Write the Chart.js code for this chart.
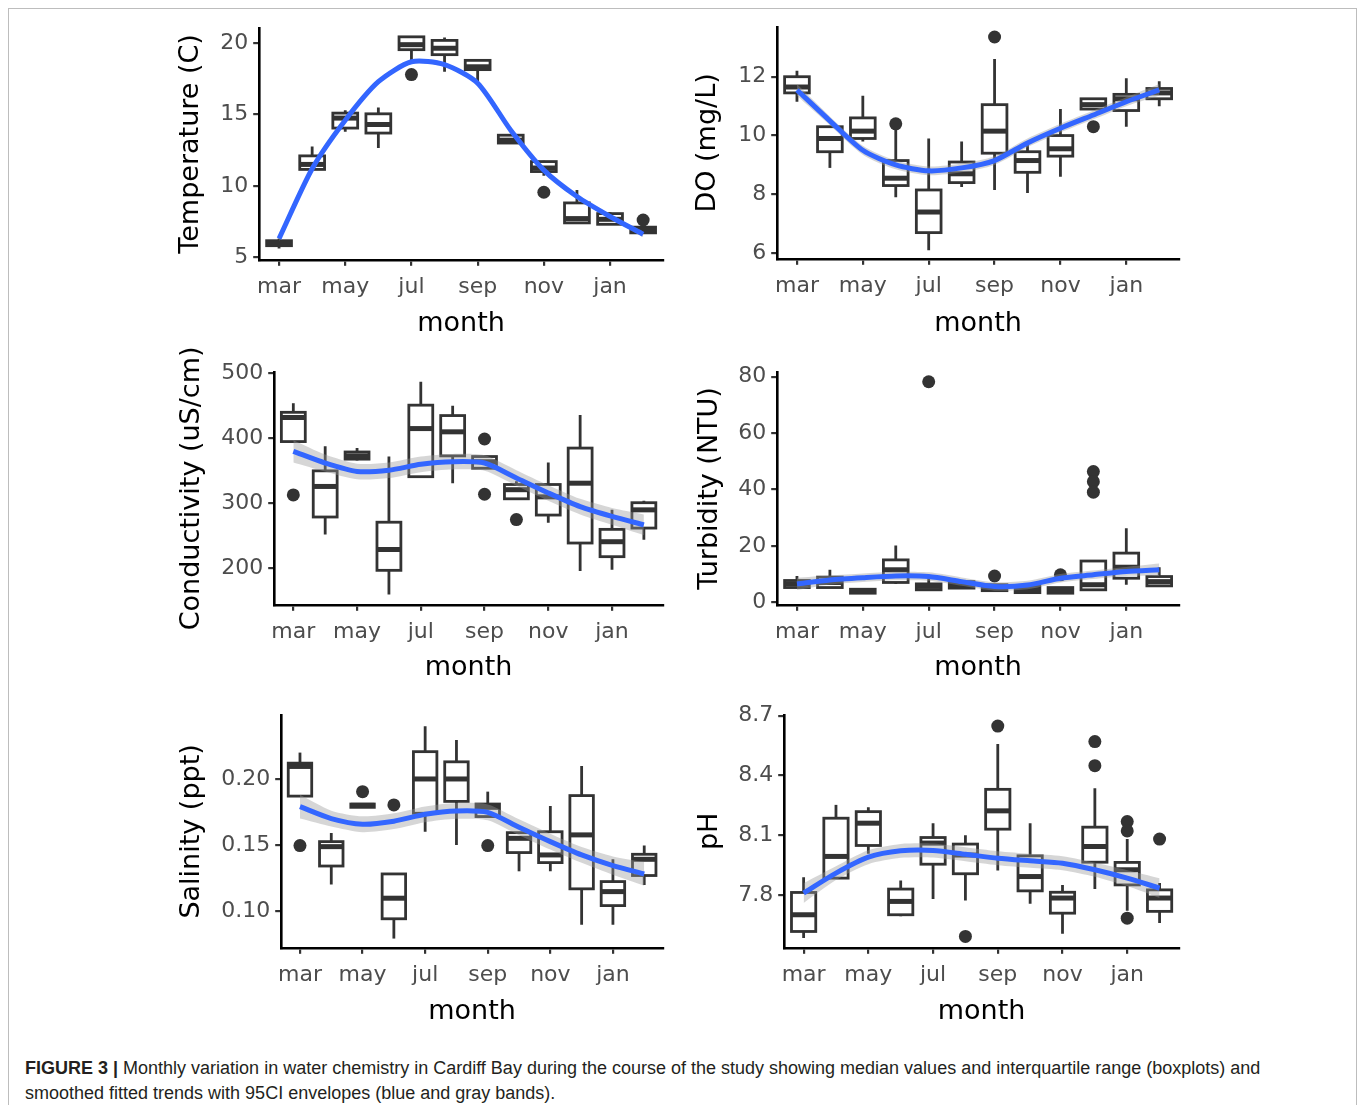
<!DOCTYPE html>
<html>
<head>
<meta charset="utf-8">
<script src="https://cdn.jsdelivr.net/npm/chart.js@4.4.1/dist/chart.umd.min.js"></script>
<style>
  body { margin: 0; background: #fff; width: 1357px; height: 1105px; overflow: hidden; position: relative; }
  .frame { position: absolute; left: 8px; top: 8px; width: 1347px; height: 1120px; border: 1px solid #bdbdbd; }
  canvas { position: absolute; }
  .caption { position: absolute; left: 25px; top: 1056px; width: 1300px; font-family: "Liberation Sans", Arial, sans-serif;
             font-size: 18px; line-height: 25px; color: #231f20; }
  .caption b { font-weight: bold; }
</style>
</head>
<body>
<div class="frame"></div>

<div class="caption"><b>FIGURE 3 |</b> Monthly variation in water chemistry in Cardiff Bay during the course of the study showing median values and interquartile range (boxplots) and smoothed fitted trends with 95CI envelopes (blue and gray bands).</div>

<script>
// months mar..feb plotted at positions 3..14
const months = ['mar', 'apr', 'may', 'jun', 'jul', 'aug', 'sep', 'oct', 'nov', 'dec', 'jan', 'feb'];
const monthTicks = [3, 5, 7, 9, 11, 13];
const tickLabels = ['mar', 'may', 'jul', 'sep', 'nov', 'jan'];

// boxes: [lower whisker, q1, median, q3, upper whisker] per month
const tempBox = [
    [5.6, 5.8, 6.0, 6.15, 6.3],
    [11.1, 11.15, 11.5, 12.1, 12.75],
    [13.8, 14.05, 14.75, 15.1, 15.3],
    [12.65, 13.7, 14.3, 15.05, 15.5],
    [18.7, 19.55, 19.9, 20.45, 20.5],
    [18.0, 19.2, 19.65, 20.2, 20.4],
    [17.2, 18.15, 18.35, 18.8, 18.85],
    [12.95, 13.0, 13.2, 13.55, 13.6],
    [10.7, 11.0, 11.25, 11.7, 11.75],
    [7.35, 7.4, 7.7, 8.8, 9.7],
    [7.3, 7.3, 7.65, 8.05, 8.15],
    [6.7, 6.7, 6.9, 7.1, 7.15]
];
const tempOut = [[7, 17.8], [11, 9.55], [14, 7.6]];
const tempFit = [6.3, 11.2, 14.6, 17.3, 18.7, 18.5, 17.2, 13.9, 11.1, 9.25, 7.85, 6.6];
const tempSe = [0.2, 0.15, 0.15, 0.15, 0.15, 0.15, 0.15, 0.15, 0.15, 0.15, 0.15, 0.2];

const doBox = [
    [11.15, 11.45, 11.65, 12.0, 12.2],
    [8.9, 9.45, 9.9, 10.3, 10.3],
    [9.8, 9.9, 10.15, 10.6, 11.35],
    [7.9, 8.3, 8.55, 9.15, 10.2],
    [6.1, 6.7, 7.4, 8.15, 9.9],
    [8.25, 8.4, 8.7, 9.1, 9.8],
    [8.15, 9.4, 10.15, 11.05, 12.6],
    [8.05, 8.75, 9.15, 9.45, 9.8],
    [8.6, 9.3, 9.55, 10.0, 10.9],
    [10.9, 10.9, 11.05, 11.25, 11.25],
    [10.3, 10.85, 11.25, 11.4, 11.95],
    [11.0, 11.25, 11.45, 11.6, 11.85]
];
const doOut = [[6, 10.4], [9, 13.35], [12, 10.3]];
const doFit = [11.55, 10.5, 9.5, 9.0, 8.8, 8.9, 9.15, 9.75, 10.25, 10.7, 11.15, 11.55];
const doSe = [0.2, 0.15, 0.15, 0.15, 0.15, 0.15, 0.15, 0.15, 0.15, 0.15, 0.15, 0.2];

const condBox = [
    [395, 395, 432, 440, 454],
    [252, 279, 326, 350, 388],
    [366, 368, 373, 379, 385],
    [160, 197, 229, 271, 372],
    [341, 341, 415, 451, 487],
    [331, 373, 410, 435, 450],
    [354, 354, 364, 372, 372],
    [306, 307, 321, 329, 334],
    [270, 282, 310, 329, 363],
    [196, 239, 331, 385, 436],
    [198, 218, 241, 260, 290],
    [244, 262, 290, 301, 304]
];
const condOut = [[3, 313], [9, 399], [9, 314], [10, 275]];
const condFit = [380, 362, 349, 351, 360, 364, 362, 339, 316, 295, 280, 267];
const condSe = [17, 13, 12, 12, 12, 12, 12, 12, 12, 12, 13, 16];

const turbBox = [
    [5.3, 5.3, 6.6, 7.8, 9.4],
    [5.3, 5.3, 7.1, 9.0, 11.6],
    [3.3, 3.3, 4.1, 4.7, 4.7],
    [6.6, 7.1, 11.6, 15.1, 20.2],
    [4.5, 4.5, 5.7, 6.6, 9.2],
    [5.1, 5.1, 6.3, 7.4, 7.4],
    [4.2, 4.2, 5.1, 6.3, 6.3],
    [3.5, 3.5, 4.5, 5.7, 5.7],
    [3.3, 3.3, 4.5, 5.3, 5.3],
    [4.5, 4.5, 6.3, 14.7, 14.7],
    [6.3, 8.6, 12.5, 17.5, 26.3],
    [5.9, 5.9, 7.4, 9.2, 12.5]
];
const turbOut = [[7, 78.2], [9, 9.4], [11, 9.8], [12, 46.4], [12, 42.8], [12, 39.1]];
const turbFit = [6.6, 8.0, 8.8, 9.4, 9.2, 7.4, 5.7, 6.2, 8.6, 9.8, 11.0, 11.6];
const turbSe = [2.2, 1.6, 1.5, 1.5, 1.5, 1.5, 1.5, 1.5, 1.5, 1.5, 1.6, 2.2];

const salBox = [
    [0.187, 0.187, 0.2095, 0.212, 0.22],
    [0.12, 0.134, 0.1487, 0.1525, 0.159],
    [0.1785, 0.1785, 0.18, 0.181, 0.181],
    [0.079, 0.094, 0.1096, 0.128, 0.128],
    [0.160, 0.174, 0.20, 0.2207, 0.240],
    [0.15, 0.183, 0.20, 0.213, 0.2295],
    [0.1715, 0.1715, 0.1785, 0.181, 0.1904],
    [0.13, 0.1442, 0.155, 0.1593, 0.1593],
    [0.13, 0.1366, 0.1424, 0.16, 0.1795],
    [0.0894, 0.1167, 0.1576, 0.1874, 0.2098],
    [0.0894, 0.104, 0.1146, 0.1222, 0.1391],
    [0.1197, 0.1268, 0.1391, 0.1429, 0.1495]
];
const salOut = [[3, 0.1495], [5, 0.1904], [6, 0.1803], [9, 0.1495]];
const salFit = [0.179, 0.170, 0.1657, 0.168, 0.1732, 0.1758, 0.1747, 0.1634, 0.1525, 0.1424, 0.1343, 0.128];
const salSe = [0.009, 0.006, 0.006, 0.006, 0.006, 0.006, 0.006, 0.006, 0.006, 0.006, 0.007, 0.009];

const phBox = [
    [7.583, 7.616, 7.70, 7.812, 7.889],
    [7.884, 7.884, 7.993, 8.185, 8.252],
    [8.006, 8.048, 8.16, 8.218, 8.24],
    [7.692, 7.70, 7.767, 7.829, 7.872],
    [7.779, 7.954, 8.06, 8.088, 8.16],
    [7.772, 7.906, 8.0, 8.055, 8.10],
    [7.922, 8.13, 8.222, 8.33, 8.558],
    [7.755, 7.82, 7.892, 7.996, 8.16],
    [7.605, 7.708, 7.784, 7.813, 7.85],
    [7.83, 7.964, 8.043, 8.14, 8.335],
    [7.72, 7.85, 7.926, 7.963, 8.08],
    [7.658, 7.717, 7.784, 7.825, 7.859]
];
const phOut = [[8, 7.591], [9, 8.648], [12, 8.57], [12, 8.449], [13, 8.168], [13, 8.121], [13, 7.683], [14, 8.08]];
const phFit = [7.809, 7.909, 7.989, 8.021, 8.023, 8.004, 7.984, 7.971, 7.959, 7.926, 7.884, 7.834];
const phSe = [0.05, 0.035, 0.035, 0.035, 0.035, 0.035, 0.035, 0.035, 0.035, 0.035, 0.04, 0.05];

// panel layout: plot area edges in page pixels
const panels = [
    { id: 'temp', title: 'Temperature (C)', box: tempBox, out: tempOut, fit: tempFit, se: tempSe,
      yMin: 4.81, yMax: 21.07, yTicks: [5, 10, 15, 20], dec: 0, L: 259, T: 28, R: 663, B: 260, yOff: 68, xOff: 64 },
    { id: 'do', title: 'DO (mg/L)', box: doBox, out: doOut, fit: doFit, se: doSe,
      yMin: 5.81, yMax: 13.69, yTicks: [6, 8, 10, 12], dec: 0, L: 777, T: 27, R: 1179, B: 259, yOff: 69, xOff: 65 },
    { id: 'cond', title: 'Conductivity (uS/cm)', box: condBox, out: condOut, fit: condFit, se: condSe,
      yMin: 144, yMax: 502, yTicks: [200, 300, 400, 500], dec: 0, L: 274, T: 372, R: 663, B: 605, yOff: 82, xOff: 63 },
    { id: 'turb', title: 'Turbidity (NTU)', box: turbBox, out: turbOut, fit: turbFit, se: turbSe,
      yMin: -0.81, yMax: 81.66, yTicks: [0, 20, 40, 60, 80], dec: 0, L: 777, T: 372, R: 1179, B: 605, yOff: 67, xOff: 63 },
    { id: 'sal', title: 'Salinity (ppt)', box: salBox, out: salOut, fit: salFit, se: salSe,
      yMin: 0.072, yMax: 0.2485, yTicks: [0.10, 0.15, 0.20], dec: 2, L: 281, T: 715, R: 663, B: 948, yOff: 89, xOff: 64 },
    { id: 'ph', title: 'pH', box: phBox, out: phOut, fit: phFit, se: phSe,
      yMin: 7.534, yMax: 8.7035, yTicks: [7.8, 8.1, 8.4, 8.7], dec: 1, L: 784, T: 715, R: 1179, B: 948, yOff: 74, xOff: 64 }
];

Chart.defaults.font.family = '"DejaVu Sans", "Liberation Sans", sans-serif';

const TITLE_SIZE = 27;
const TICK_SIZE = 22;
const PAD_TOP = 40, PAD_RIGHT = 12;
const TENSION = 0.25;

// draws the boxplots through the chart's own scales
function boxPlugin(p) {
    return {
        id: 'boxes_' + p.id,
        beforeDatasetsDraw(chart) {
            const { ctx, scales: { x, y } } = chart;
            ctx.save();
            ctx.strokeStyle = '#333333';
            p.box.forEach((b, i) => {
                const m = i + 3;
                const xc = x.getPixelForValue(m);
                const x0 = x.getPixelForValue(m - 0.375);
                const x1 = x.getPixelForValue(m + 0.375);
                const [lo, q1, med, q3, hi] = b.map(v => y.getPixelForValue(v));
                ctx.lineWidth = 2.8;
                ctx.beginPath();
                ctx.moveTo(xc, hi); ctx.lineTo(xc, q3);
                ctx.moveTo(xc, q1); ctx.lineTo(xc, lo);
                ctx.stroke();
                ctx.fillStyle = '#ffffff';
                ctx.fillRect(x0, q3, x1 - x0, q1 - q3);
                ctx.strokeRect(x0, q3, x1 - x0, q1 - q3);
                ctx.lineWidth = 5;
                ctx.beginPath();
                ctx.moveTo(x0, med); ctx.lineTo(x1, med);
                ctx.stroke();
            });
            ctx.restore();
        }
    };
}

panels.forEach(p => {
    const yW = p.yOff + TITLE_SIZE * 0.6 + 4;
    const xH = p.xOff + TITLE_SIZE * 0.6 + 4;
    const canvas = document.createElement('canvas');
    const w = Math.round(yW + (p.R - p.L) + PAD_RIGHT);
    const h = Math.round(PAD_TOP + (p.B - p.T) + xH);
    canvas.width = w; canvas.height = h;
    canvas.style.width = w + 'px'; canvas.style.height = h + 'px';
    canvas.style.left = Math.round(p.L - yW) + 'px';
    canvas.style.top = (p.T - PAD_TOP) + 'px';
    document.body.appendChild(canvas);

    const fitPts = p.fit.map((v, i) => ({ x: i + 3, y: v }));
    const loPts = p.fit.map((v, i) => ({ x: i + 3, y: v - p.se[i] }));
    const hiPts = p.fit.map((v, i) => ({ x: i + 3, y: v + p.se[i] }));
    const outPts = p.out.map(o => ({ x: o[0], y: o[1] }));

    new Chart(canvas, {
        type: 'scatter',
        data: {
            datasets: [
                { type: 'scatter', data: outPts, order: 3, pointRadius: 6.5, pointBackgroundColor: '#333333', pointBorderWidth: 0 },
                { type: 'line', data: loPts, order: 2, borderWidth: 0, pointRadius: 0, tension: TENSION, fill: false },
                { type: 'line', data: hiPts, order: 1, borderWidth: 0, pointRadius: 0, tension: TENSION,
                  fill: '-1', backgroundColor: 'rgba(153,153,153,0.4)' },
                { type: 'line', data: fitPts, order: 0, borderColor: '#3366FF', borderWidth: 5, pointRadius: 0,
                  tension: TENSION, fill: false, borderCapStyle: 'butt' }
            ]
        },
        options: {
            responsive: false,
            animation: false,
            events: [],
            layout: { padding: { top: PAD_TOP, right: PAD_RIGHT, left: 0, bottom: 0 } },
            plugins: { legend: { display: false }, tooltip: { enabled: false } },
            scales: {
                x: {
                    type: 'linear', min: 2.4, max: 14.6,
                    afterBuildTicks: s => { s.ticks = monthTicks.map(v => ({ value: v })); },
                    afterFit: s => { s.height = xH; },
                    ticks: {
                        callback: (v) => tickLabels[monthTicks.indexOf(v)],
                        color: '#4d4d4d', font: { size: TICK_SIZE }, padding: 8, maxRotation: 0, autoSkip: false
                    },
                    grid: { display: true, drawOnChartArea: false, drawTicks: true, tickLength: 6, color: '#333333', lineWidth: 2.2 },
                    border: { display: true, color: '#000000', width: 2.6 },
                    title: { display: true, text: 'month', color: '#000000', font: { size: TITLE_SIZE }, padding: 4 }
                },
                y: {
                    type: 'linear', min: p.yMin, max: p.yMax,
                    afterBuildTicks: s => { s.ticks = p.yTicks.map(v => ({ value: v })); },
                    afterFit: s => { s.width = yW; },
                    ticks: {
                        callback: (v) => Number(v).toFixed(p.dec),
                        color: '#4d4d4d', font: { size: TICK_SIZE }, padding: 5, autoSkip: false
                    },
                    grid: { display: true, drawOnChartArea: false, drawTicks: true, tickLength: 6, color: '#333333', lineWidth: 2.2 },
                    border: { display: true, color: '#000000', width: 2.6 },
                    title: { display: true, text: p.title, color: '#000000', font: { size: TITLE_SIZE }, padding: 4 }
                }
            }
        },
        plugins: [boxPlugin(p)]
    });
});
</script>
</body>
</html>
